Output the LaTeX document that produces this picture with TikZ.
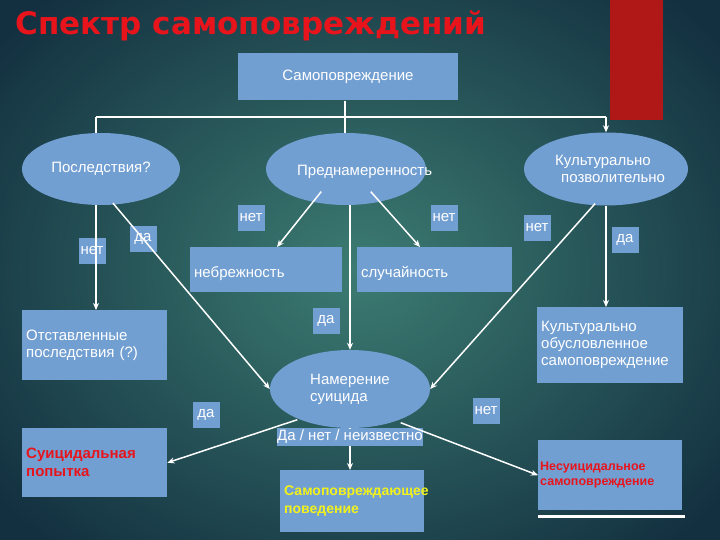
\documentclass[tikz,border=0pt]{standalone}
\usepackage{fontspec}
\setmainfont{Liberation Sans}
\newfontfamily\titlefont{DejaVu Sans}
\usetikzlibrary{shapes.geometric,arrows.meta}
\definecolor{boxblue}{HTML}{729FD2}
\definecolor{bgin}{HTML}{3C7C72}
\definecolor{bgout}{HTML}{133040}
\definecolor{titlered}{HTML}{E8141C}
\definecolor{barred}{HTML}{B01818}
\definecolor{txtyellow}{HTML}{F2F21A}
\begin{document}
\begin{tikzpicture}[x=1pt,y=-1pt,
  bx/.style={fill=boxblue,draw=none,inner sep=4pt,text=white,font=\fontsize{15}{17}\selectfont},
  el/.style={ellipse,fill=boxblue,draw=none,text=white,font=\fontsize{15}{17}\selectfont,inner sep=0pt},
  tx/.style={text=white,font=\fontsize{15}{17}\selectfont,inner sep=0pt},
  lab/.style={fill=boxblue,draw=none,text=white,font=\fontsize{15}{17}\selectfont,minimum width=27pt,minimum height=26pt,inner sep=0pt},
  ln/.style={draw=white,line width=1.5pt},
  ar/.style={ln,-{Stealth[length=7pt,width=6pt]}}]
\useasboundingbox (0,0) rectangle (720,540);
\shade[inner color=bgin,outer color=bgout] (-100,-100) rectangle (820,640);
\fill[barred] (610,0) rectangle (663,120);
\node[anchor=west,text=titlered,font=\titlefont\bfseries\fontsize{31}{34}\selectfont] (title) at (12,26) {Спектр самоповреждений};
% boxes
\node[bx,minimum width=220pt,minimum height=47pt] (root) at (348,77) {Самоповреждение};
\node[el,minimum width=158pt,minimum height=72pt] (pos) at (101,169) {Последствия?};
\node[el,minimum width=160pt,minimum height=72pt] (pred) at (346,169) {};
\node[tx,anchor=west] (predt) at (297,172) {Преднамеренность};
\node[el,minimum width=164pt,minimum height=73pt] (kult) at (606,169) {};
\node[tx,align=left,anchor=west] (kultt) at (553,169) {\hspace{2pt}Культурально\\\hspace{8pt}позволительно};
\node[bx,minimum width=152pt,minimum height=45pt,anchor=north west,text width=144pt] (neb) at (190,247) {\\[2pt]небрежность};
\node[bx,minimum width=155pt,minimum height=45pt,anchor=north west,text width=147pt] (sl) at (357,247) {\\[2pt]случайность};
\node[bx,minimum width=145pt,minimum height=70pt,anchor=north west,text width=137pt] (otst) at (22,310) {Отставленные\\последствия (?)};
\node[bx,minimum width=146pt,minimum height=76pt,anchor=north west,text width=138pt] (kob) at (537,307) {Культурально\\обусловленное\\самоповреждение};
\node[el,minimum width=160pt,minimum height=78pt,align=left] (nam) at (350,389) {Намерение\\суицида};
\node[bx,minimum width=145pt,minimum height=69pt,anchor=north west,text width=137pt,text=titlered,font=\bfseries\fontsize{15}{18}\selectfont] (sui) at (22,428) {Суицидальная\\попытка};
\node[bx,minimum width=140pt,minimum height=18pt,inner sep=0pt] (dnn) at (350,437) {Да / нет / неизвестно};
\node[bx,minimum width=144pt,minimum height=62pt,anchor=north west,text width=136pt,text=txtyellow,font=\bfseries\fontsize{14}{18}\selectfont] (sam) at (280,470) {Самоповреждающее\\поведение};
\node[bx,minimum width=144pt,minimum height=70pt,anchor=north west,text width=140pt,inner sep=2pt,text=titlered,font=\bfseries\fontsize{12.5}{15}\selectfont] (nes) at (538,440) {Несуицидальное\\самоповреждение};
\coordinate (ul1) at (538,516); \coordinate (ul2) at (685,516);
\draw[white,line width=3pt] (ul1) -- (ul2);
% labels
\node[lab] (l1) at (251,218) {нет};
\node[lab] (l2) at (444,218) {нет};
\node[lab] (l3) at (537,228) {нет};
\node[lab] (l4) at (625,240) {да};
\node[lab] (l5) at (92,251) {нет};
\node[lab] (l6) at (143,239) {да};
\node[lab] (l7) at (326,321) {да};
\node[lab] (l8) at (206,415) {да};
\node[lab] (l9) at (486,411) {нет};
% connectors
\coordinate (h1) at (96,117); \coordinate (h2) at (606,117); \coordinate (hm) at (345,117);
\draw[ln] (root.south -| hm) -- (hm);
\draw[ln] (h1) -- (h2);
\draw[ln] (hm) -- (pred.north -| hm);
\draw[ln] (h1) -- (pos.north -| h1);
\draw[ar] (h2) -- (kult.north);
\draw[ar] (pred.south west) ++(32,-3) -- (neb.north -| 277,0);
\draw[ar] (pred.south east) ++(-32,-3) -- (sl.north -| 420,0);
\draw[ar] (pred.south -| 350,0) -- (nam.north -| 350,0);
\draw[ar] (pos.south -| 96,0) -- (otst.north -| 96,0);
\draw[ar] (pos.south -| 113,0) ++(0,-2) -- (nam.west);
\draw[ar] (kult.south -| 595,0) ++(0,-2) -- (nam.east);
\draw[ar] (kult.south -| 606,0) -- (kob.north -| 606,0);
\draw[ar] (nam.south west) ++(4,3) -- (sui.east);
\draw[ln] (nam.south) -- (dnn.north);
\draw[ar] (dnn.south) -- (sam.north -| 350,0);
\draw[ar] (nam.south east) ++(-6,6) -- (nes.west);
\end{tikzpicture}
\end{document}
